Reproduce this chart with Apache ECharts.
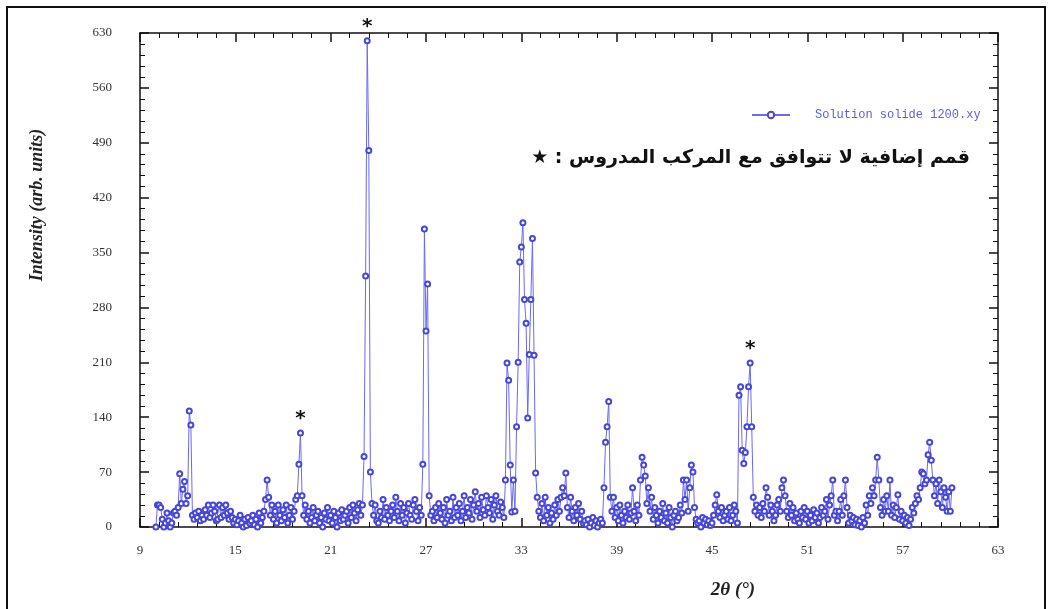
<!DOCTYPE html>
<html>
<head>
<meta charset="utf-8">
<script src="https://cdn.jsdelivr.net/npm/echarts@6/dist/echarts.min.js"></script>
<style>
  html, body { margin: 0; padding: 0; background: #fff; }
  #chart { width: 1052px; height: 609px; }
</style>
</head>
<body>
<div id="chart"></div>
<script>
// Diffraction pattern, 2θ sampled every 0.1° from 10.0°
const angleStart = 10.0;
const angleStep = 0.1;

// Intensities, one row per degree (x.0 … x.9)
const counts10 = [
  0, 28, 28, 25, 10, 0, 5, 18, 8, 0,
  5, 18, 20, 15, 25, 68, 30, 48, 58, 30,
  40, 148, 130, 15, 10, 18, 12, 20, 8, 15,
  10, 22, 15, 28, 12, 18, 28, 20, 8, 10,
  28, 12, 25, 15, 28, 18, 10, 20, 12, 5,
  10, 3, 8, 15, 5, 0, 10, 2, 12, 5,
  8, 15, 3, 10, 0, 18, 5, 12, 20, 35,
  60, 38, 15, 28, 10, 20, 5, 28, 15, 8,
  22, 12, 28, 5, 15, 25, 10, 20, 35, 40,
  80, 120, 40, 15, 28, 10, 20, 5, 12, 25
];
const counts20 = [
  8, 15, 20, 5, 12, 0, 18, 10, 25, 8,
  15, 5, 20, 12, 0, 18, 8, 22, 10, 15,
  20, 5, 25, 12, 28, 18, 8, 22, 30, 15,
  28, 90, 320, 620, 480, 70, 30, 15, 28, 8,
  5, 20, 12, 35, 10, 25, 15, 8, 20, 28,
  12, 38, 20, 8, 30, 15, 25, 5, 18, 30,
  15, 10, 28, 35, 20, 8, 25, 15, 80, 380,
  250, 310, 40, 15, 20, 8, 25, 12, 30, 18,
  10, 25, 5, 35, 15, 20, 8, 38, 12, 25,
  15, 30, 8, 20, 40, 12, 25, 18, 35, 10
];
const counts30 = [
  28, 45, 20, 30, 12, 38, 22, 15, 40, 25,
  18, 35, 10, 28, 40, 20, 15, 32, 25, 12,
  60, 209, 187, 79, 19, 60, 20, 128, 210, 338,
  357, 388, 290, 260, 139, 220, 290, 368, 219, 69,
  38, 20, 12, 30, 8, 38, 15, 25, 5, 18,
  10, 28, 15, 35, 20, 38, 50, 40, 69, 25,
  12, 38, 20, 8, 25, 15, 30, 10, 20, 5,
  8, 3, 10, 0, 5, 12, 2, 8, 0, 5,
  10, 5, 50, 108, 128, 160, 38, 20, 38, 12,
  25, 8, 28, 15, 5, 20, 12, 28, 10, 18
];
const counts40 = [
  50, 20, 8, 28, 15, 60, 89, 79, 65, 30,
  50, 20, 38, 10, 25, 15, 5, 20, 12, 30,
  8, 18, 5, 25, 12, 0, 15, 20, 8, 12,
  28, 18, 60, 35, 60, 20, 50, 79, 70, 25,
  10, 5, 8, 0, 12, 5, 10, 3, 8, 2,
  5, 15, 28, 41, 20, 12, 25, 8, 15, 20,
  10, 25, 8, 15, 28, 20, 5, 168, 179, 98,
  81, 95, 128, 179, 209, 128, 38, 20, 28, 15,
  25, 12, 30, 20, 50, 38, 15, 28, 20, 8,
  15, 28, 35, 20, 50, 60, 40, 20, 12, 30
];
const counts50 = [
  15, 25, 8, 18, 10, 5, 20, 12, 25, 10,
  20, 5, 15, 8, 22, 12, 18, 5, 12, 25,
  15, 20, 35, 10, 28, 40, 60, 15, 20, 8,
  20, 35, 15, 40, 60, 25, 5, 15, 8, 12,
  3, 10, 2, 8, 0, 12, 5, 28, 15, 40,
  30, 50, 40, 60, 89, 60, 25, 15, 35, 20,
  40, 20, 60, 15, 28, 12, 25, 41, 10, 20,
  8, 15, 5, 12, 2, 10, 25, 18, 30, 40,
  35, 50, 70, 68, 55, 60, 92, 108, 85, 60,
  40, 55, 30, 60, 45, 25, 50, 38, 20, 45
];
const counts60 = [20, 50];

// Peaks flagged as extra reflections (2θ, intensity)
const flaggedPeaks = [[19.1, 120], [23.3, 620], [47.4, 209]];

const xTicks = { min: 9, max: 63, step: 6 };
const yTicks = { min: 0, max: 630, step: 70 };

const seriesName = 'Solution solide 1200.xy';
const noteText = '\u2605 : قمم إضافية لا تتوافق مع المركب المدروس';

const intensities = [].concat(counts10, counts20, counts30, counts40, counts50, counts60);
const pattern = intensities.map((v, i) => [+(angleStart + i * angleStep).toFixed(1), v]);

const serif = '"Liberation Serif", "DejaVu Serif", serif';
const tickLabel = { color: '#333', fontFamily: serif, fontSize: 13 };

function frameAxis(extra) {
  return Object.assign({
    axisLine: { show: true, onZero: false, lineStyle: { color: '#111', width: 1.5 } },
    axisTick: { show: true, inside: true, length: 9, lineStyle: { color: '#111', width: 1.5 } },
    minorTick: { show: true, splitNumber: 5, length: 5, lineStyle: { color: '#111', width: 1 } },
    splitLine: { show: false },
    minorSplitLine: { show: false }
  }, extra);
}

const chart = echarts.init(document.getElementById('chart'), null, { renderer: 'canvas' });

chart.setOption({
  backgroundColor: '#ffffff',
  animation: false,
  grid: { left: 140, right: 54, top: 33, bottom: 82, containLabel: false },
  legend: {
    data: [seriesName],
    left: 746,
    top: 104,
    itemWidth: 38,
    itemHeight: 8,
    textStyle: { fontFamily: '"Liberation Mono", "DejaVu Sans Mono", monospace', fontSize: 12, color: '#5c5ce8', padding: [0, 0, 0, 20] }
  },
  xAxis: [
    frameAxis({
      type: 'value', min: xTicks.min, max: xTicks.max, interval: xTicks.step,
      position: 'bottom',
      axisLabel: Object.assign({ margin: 17 }, tickLabel)
    }),
    frameAxis({
      type: 'value', min: xTicks.min, max: xTicks.max, interval: xTicks.step,
      position: 'top',
      axisLabel: { show: false }
    })
  ],
  yAxis: [
    frameAxis({
      type: 'value', min: yTicks.min, max: yTicks.max, interval: yTicks.step,
      position: 'left',
      axisLabel: Object.assign({ margin: 28 }, tickLabel)
    }),
    frameAxis({
      type: 'value', min: yTicks.min, max: yTicks.max, interval: yTicks.step,
      position: 'right',
      axisLabel: { show: false }
    })
  ],
  series: [{
    name: seriesName,
    type: 'line',
    data: pattern,
    symbol: 'emptyCircle',
    symbolSize: 5,
    showSymbol: true,
    showAllSymbol: true,
    lineStyle: { color: '#6a6af2', width: 1 },
    itemStyle: { color: '#4646d8', borderColor: '#4646d8', borderWidth: 1 },
    emphasis: { disabled: true },
    markPoint: {
      symbol: 'circle',
      symbolSize: 0,
      label: {
        show: true,
        formatter: '*',
        position: 'top',
        distance: 4,
        color: '#111',
        fontSize: 20,
        fontWeight: 'bold',
        fontFamily: '"DejaVu Sans", sans-serif'
      },
      data: flaggedPeaks.map(p => ({ coord: p, value: p[1] }))
    }
  }],
  graphic: [
    {
      type: 'rect',
      shape: { x: 7, y: 7, width: 1038, height: 620 },
      style: { fill: null, stroke: '#111', lineWidth: 2 },
      silent: true
    },
    {
      type: 'text',
      x: 37, y: 205,
      rotation: Math.PI / 2,
      style: {
        text: 'Intensity (arb. units)',
        font: 'italic bold 18px ' + serif,
        fill: '#222',
        textAlign: 'center',
        textVerticalAlign: 'middle'
      }
    },
    {
      type: 'text',
      x: 733, y: 590,
      style: {
        text: '2θ (°)',
        font: 'italic bold 19px ' + serif,
        fill: '#222',
        textAlign: 'center',
        textVerticalAlign: 'middle'
      }
    },
    {
      type: 'text',
      x: 970, y: 158,
      style: {
        text: noteText,
        font: 'bold 19px "DejaVu Sans", sans-serif',
        fill: '#111',
        textAlign: 'right',
        textVerticalAlign: 'middle'
      }
    }
  ]
});
</script>
</body>
</html>
